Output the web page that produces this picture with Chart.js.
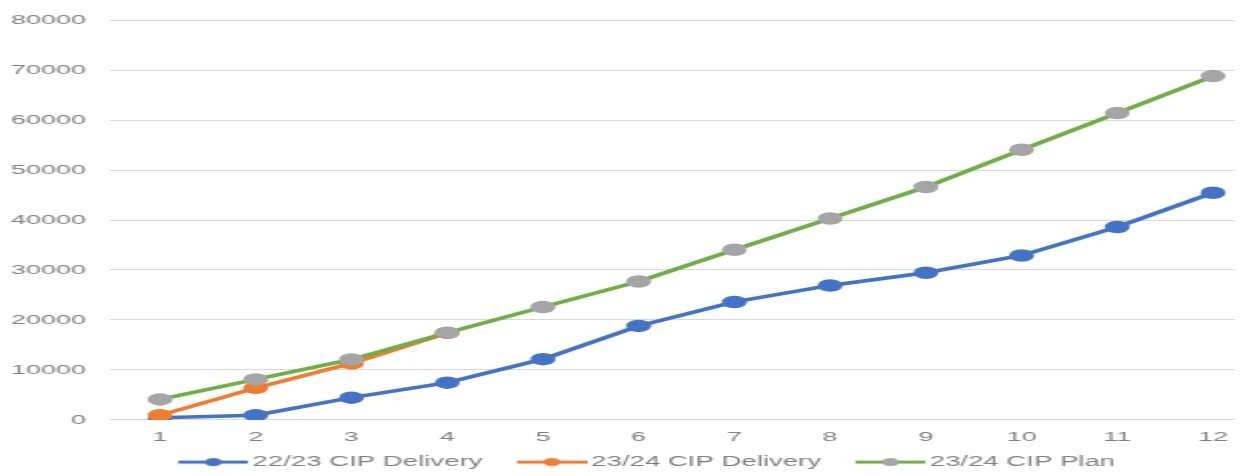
<!DOCTYPE html>
<html>
<head>
<meta charset="utf-8">
<script src="https://cdn.jsdelivr.net/npm/chart.js@4"></script>
<style>
html,body{margin:0;padding:0;background:#fff;overflow:hidden}
#wrap{width:626px;height:476px;transform:scaleX(1.998403);transform-origin:0 0}
canvas{display:block}
</style>
</head>
<body>
<div id="wrap"><canvas id="c" width="626" height="476" style="width:626px;height:476px"></canvas></div>
<script>
// ---- data ----
const categories = [1, 2, 3, 4, 5, 6, 7, 8, 9, 10, 11, 12];
const delivery2223 = [450, 950, 4450, 7450, 12150, 18800, 23600, 26900, 29450, 32900, 38600, 45450];
const delivery2324 = [950, 6400, 11300, 17400, null, null, null, null, null, null, null, null];
const plan2324 = [4100, 8100, 12100, 17450, 22600, 27700, 34050, 40300, 46600, 54050, 61400, 68800];
const yTicks = [0, 10000, 20000, 30000, 40000, 50000, 60000, 70000, 80000];
const seriesNames = ['22/23 CIP Delivery', '23/24 CIP Delivery', '23/24 CIP Plan'];

// ---- styles ----
const BLUE = '#4472C4', ORANGE = '#ED7D31', GREEN = '#70AD47', GRAY = '#A5A5A5';
const TEXT = '#808080';
const FAMILY = '"Liberation Sans", Arial, sans-serif';

function legendIcon(lineColor, dotColor) {
  const W = 49, H = 12;
  const c = document.createElement('canvas');
  c.width = W; c.height = H;
  const g = c.getContext('2d');
  g.strokeStyle = lineColor; g.lineWidth = 2.8;
  g.beginPath(); g.moveTo(W - 35, H / 2); g.lineTo(W, H / 2); g.stroke();
  g.fillStyle = dotColor;
  g.beginPath(); g.arc(W - 17.5, H / 2, 4, 0, Math.PI * 2); g.fill();
  return c;
}
const icons = [legendIcon(BLUE, BLUE), legendIcon(ORANGE, ORANGE), legendIcon(GREEN, GRAY)];

const toXY = arr => categories.map((c, i) => ({x: c, y: arr[i]}));

// shift the legend block slightly right, as in the reference
const legendShift = {
  id: 'legendShift',
  afterLayout(chart) {
    if (chart.legend) { chart.legend.left += 6; chart.legend.right += 6; }
  }
};

new Chart(document.getElementById('c'), {
  type: 'line',
  data: {
    datasets: [
      {label: seriesNames[0], data: toXY(delivery2223), borderColor: BLUE, backgroundColor: BLUE,
       pointBackgroundColor: BLUE, pointBorderColor: BLUE, borderWidth: 3.5, pointRadius: 4.5, order: 3},
      {label: seriesNames[1], data: toXY(delivery2324), borderColor: ORANGE, backgroundColor: ORANGE,
       pointBackgroundColor: ORANGE, pointBorderColor: ORANGE, borderWidth: 3.5, pointRadius: 4.5, order: 2},
      {label: seriesNames[2], data: toXY(plan2324), borderColor: GREEN, backgroundColor: GRAY,
       pointBackgroundColor: GRAY, pointBorderColor: GRAY, borderWidth: 3.5, pointRadius: 4.5, order: 1}
    ]
  },
  plugins: [legendShift],
  options: {
    responsive: false,
    animation: false,
    devicePixelRatio: 1,
    layout: {padding: {top: 19, left: 0, right: 0, bottom: -3}},
    elements: {line: {tension: 0}},
    plugins: {
      tooltip: {enabled: false},
      legend: {
        position: 'bottom',
        labels: {
          usePointStyle: true,
          pointStyleWidth: 39.5,
          padding: 8,
          color: TEXT,
          font: {family: FAMILY, size: 13.8},
          sort: (a, b) => a.datasetIndex - b.datasetIndex,
          generateLabels(chart) {
            const items = Chart.defaults.plugins.legend.labels.generateLabels(chart);
            items.forEach(it => { it.pointStyle = icons[it.datasetIndex]; });
            return items;
          }
        }
      }
    },
    scales: {
      x: {
        type: 'linear', min: 0.477, max: 12.23,
        grid: {display: false, drawTicks: false},
        border: {display: false},
        afterBuildTicks: s => { s.ticks = categories.map(v => ({value: v})); },
        afterFit: s => { s.paddingLeft = 0; s.paddingRight = 0; s.height = 27.3; },
        ticks: {color: TEXT, font: {family: FAMILY, size: 13.5}, padding: 9, autoSkip: false, maxRotation: 0,
                callback: v => String(v)}
      },
      y: {
        min: 0, max: 80000,
        afterBuildTicks: s => { s.ticks = yTicks.map(v => ({value: v})); },
        afterFit: s => { s.width = 55; },
        grid: {color: '#D9D9D9', lineWidth: 1, drawTicks: false},
        border: {display: false},
        ticks: {color: TEXT, font: {family: FAMILY, size: 13.5}, padding: 12, callback: v => String(v)}
      }
    }
  }
});
</script>
</body>
</html>
